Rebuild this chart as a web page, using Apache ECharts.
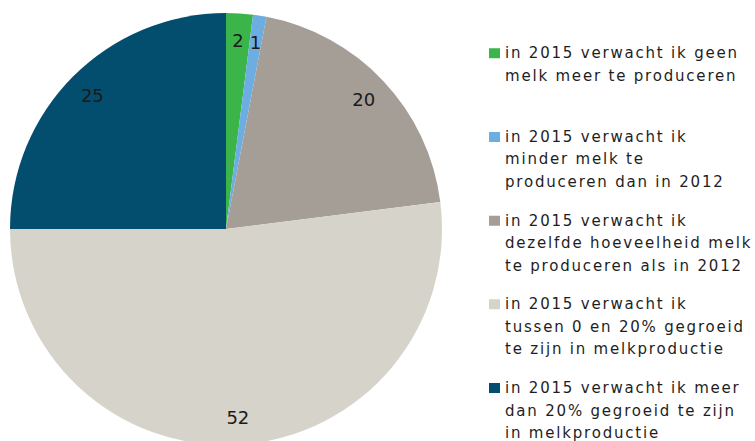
<!DOCTYPE html>
<html>
<head>
<meta charset="utf-8">
<script src="https://cdn.jsdelivr.net/npm/echarts@6/dist/echarts.min.js"></script>
<style>
html,body{margin:0;padding:0;background:#ffffff;}
#c{width:755px;height:441px;}
#c text{letter-spacing:1.8px;}
#c text[style*="18px"]{letter-spacing:0;}
</style>
</head>
<body>
<div id="c"></div>
<script>
const categories = [
  'in 2015 verwacht ik geen\nmelk meer te produceren',
  'in 2015 verwacht ik\nminder melk te\nproduceren dan in 2012',
  'in 2015 verwacht ik\ndezelfde hoeveelheid melk\nte produceren als in 2012',
  'in 2015 verwacht ik\ntussen 0 en 20% gegroeid\nte zijn in melkproductie',
  'in 2015 verwacht ik meer\ndan 20% gegroeid te zijn\nin melkproductie'
];
const values = [2, 1, 20, 52, 25];
const colors = ['#3bb44a', '#6cade2', '#a59e97', '#d6d3cb', '#034e6e'];

const pieData = categories.map((name, i) => ({ name: name, value: values[i], itemStyle: { color: colors[i] } }));
const labelData = categories.map((name, i) => ({ name: name, value: values[i] }));

const chart = echarts.init(document.getElementById('c'), null, { renderer: 'svg' });
chart.setOption({
  animation: false,
  backgroundColor: '#ffffff',
  legend: {
    orient: 'vertical',
    left: 489,
    top: 42,
    width: 266,
    height: 420,
    padding: 0,
    itemGap: 16.2,
    itemWidth: 11,
    itemHeight: 67.5,
    icon: 'path://M0,0L0.01,0L0.01,0.01Z M0,6.25L11,6.25L11,16.25L0,16.25Z M0,67.49L0.01,67.49L0.01,67.5Z',
    selectedMode: false,
    data: categories,
    itemStyle: { borderWidth: 0 },
    formatter: function (name) {
      const lines = name.split('\n');
      while (lines.length < 3) lines.push(' ');
      return lines.join('\n');
    },
    textStyle: {
      fontFamily: 'DejaVu Sans',
      fontSize: 15,
      lineHeight: 22.5,
      color: '#1e1e1e'
    }
  },
  series: [
    {
      type: 'pie',
      center: [226, 229],
      radius: 216,
      startAngle: 90,
      clockwise: true,
      silent: true,
      avoidLabelOverlap: false,
      label: { show: false },
      labelLine: { show: false },
      itemStyle: { borderWidth: 0 },
      emphasis: { disabled: true },
      data: pieData
    },
    {
      type: 'pie',
      center: [226, 229],
      radius: [156, 216],
      startAngle: 90,
      clockwise: true,
      silent: true,
      avoidLabelOverlap: false,
      itemStyle: { color: 'rgba(0,0,0,0)', borderWidth: 0 },
      label: {
        show: true,
        position: 'inside',
        formatter: '{c}',
        fontFamily: 'DejaVu Sans',
        fontSize: 18,
        color: '#1a1a1a'
      },
      labelLine: { show: false },
      emphasis: { disabled: true },
      data: labelData
    }
  ]
});
</script>
</body>
</html>
